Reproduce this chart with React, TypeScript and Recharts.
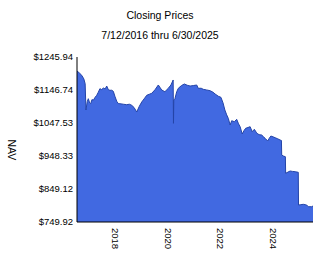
import React from "react";
import { AreaChart, Area, XAxis, YAxis } from "recharts";

const dates: number[] = [
  2016.53, 2016.62, 2016.71, 2016.79, 2016.84, 2016.87, 2016.92, 2016.96, 2017.01, 2017.05,
  2017.1, 2017.15, 2017.22, 2017.28, 2017.34, 2017.4, 2017.47, 2017.53, 2017.6, 2017.66,
  2017.72, 2017.78, 2017.85, 2017.91, 2017.97, 2018.04, 2018.1, 2018.16, 2018.29, 2018.42,
  2018.52, 2018.61, 2018.7, 2018.8, 2018.9, 2018.99, 2019.08, 2019.18, 2019.28, 2019.37,
  2019.5, 2019.62, 2019.68, 2019.75, 2019.87, 2020.0, 2020.1, 2020.185, 2020.197, 2020.209,
  2020.25, 2020.32, 2020.38, 2020.5, 2020.61, 2020.72, 2020.83, 2020.95, 2021.08, 2021.14,
  2021.25, 2021.33, 2021.45, 2021.59, 2021.7, 2021.78, 2021.9, 2022.0, 2022.08, 2022.15,
  2022.22, 2022.28, 2022.35, 2022.41, 2022.51, 2022.6, 2022.67, 2022.73, 2022.81, 2022.88,
  2022.94, 2023.03, 2023.11, 2023.19, 2023.27, 2023.34, 2023.4, 2023.48, 2023.55, 2023.62,
  2023.68, 2023.78, 2023.84, 2023.9, 2023.98, 2024.06, 2024.16, 2024.25, 2024.3, 2024.31,
  2024.38, 2024.45, 2024.46, 2024.55, 2024.63, 2024.72, 2024.82, 2024.94, 2024.95, 2025.04,
  2025.13, 2025.2, 2025.26, 2025.32, 2025.45, 2025.5,
];

const navValues: number[] = [
  1203.9, 1198, 1190.9, 1180, 1165.7, 1086.6, 1112, 1120.6, 1108, 1105.5,
  1118, 1115.8, 1125, 1130.8, 1140, 1150.6, 1148, 1152.7, 1150, 1158.7,
  1148, 1145.8, 1146, 1142.8, 1128, 1112.8, 1106, 1105.5, 1104, 1102.5,
  1104, 1100.7, 1094, 1080.6, 1098, 1110.6, 1120, 1130.8, 1134, 1136.8,
  1148, 1161.8, 1155, 1146.7, 1141.6, 1151.8, 1161.8, 1176.8, 1046.6, 1116.7,
  1120, 1141.6, 1151.8, 1160, 1164.8, 1161, 1158.7, 1160, 1161.8, 1151.8,
  1152, 1148.8, 1147, 1144.6, 1140, 1134.7, 1128, 1124.8, 1108, 1086.6,
  1072, 1061.6, 1041.5, 1054.4, 1051.4, 1058.6, 1045, 1036.4, 1014.5, 1025,
  1031.6, 1034, 1036.4, 1021.4, 1028.6, 1020, 1014.5, 1012, 1011.5, 1006,
  1001.5, 993.4, 1002, 1008.4, 1006, 1003.3, 1000, 996.4, 995, 951.3,
  948, 946.2, 896.3, 900, 903.2, 902, 901.1, 899.3, 801.0, 802,
  803.1, 802, 801.0, 795.9, 795.9, 798,
];

const yTicks: number[] = [749.92, 849.124, 948.328, 1047.532, 1146.736, 1245.94];
const xTicks: number[] = [2018, 2020, 2022, 2024];
const xDomain: number[] = [2016.53, 2025.5];

const data = dates.map((d, i) => ({ date: d, nav: navValues[i] }));

const FONT = "'Liberation Sans', Arial, sans-serif";

const XTick = (props: any) => {
  const { x, y, payload } = props;
  return (
    <text
      x={x}
      y={y}
      transform={`rotate(90, ${x}, ${y})`}
      textAnchor="start"
      dominantBaseline="central"
      fontSize={9.5}
      fontFamily={FONT}
      fill="#000"
    >
      {String(payload.value)}
    </text>
  );
};

export default function App() {
  return (
    <div style={{ position: "absolute", left: 0, top: 0, width: 324, height: 267, background: "#fff", fontFamily: FONT }}>
      <div style={{ position: "absolute", left: 0, top: 9, width: 320, textAlign: "center", fontSize: 10.5, lineHeight: "12px", color: "#000" }}>
        Closing Prices
      </div>
      <div style={{ position: "absolute", left: 0, top: 29, width: 320, textAlign: "center", fontSize: 10.5, lineHeight: "12px", color: "#000" }}>
        7/12/2016 thru 6/30/2025
      </div>
      <div style={{ position: "absolute", left: 0, top: 0 }}>
        <AreaChart width={324} height={267} data={data} margin={{ top: 57, right: 11, bottom: 15, left: 0 }}>
          <XAxis
            dataKey="date"
            type="number"
            domain={xDomain}
            ticks={xTicks}
            allowDataOverflow
            tickLine={false}
            tickSize={0}
            tickMargin={6}
            height={30}
            axisLine={{ stroke: "#000", strokeWidth: 1 }}
            tick={<XTick />}
            interval={0}
          />
          <YAxis
            type="number"
            domain={[749.92, 1245.94]}
            ticks={yTicks}
            allowDataOverflow
            width={77}
            tickLine={false}
            tickSize={0}
            tickMargin={4}
            interval={0}
            axisLine={{ stroke: "#000", strokeWidth: 1 }}
            tick={{ fill: "#000", fontSize: 9.5, fontFamily: FONT }}
            tickFormatter={(v: number) => `$${v.toFixed(2)}`}
            label={{ value: "NAV", angle: 90, position: "insideLeft", offset: 12, fill: "#000", fontSize: 10.5, fontFamily: FONT }}
          />
          <Area
            type="linear"
            dataKey="nav"
            stroke="#2444a8"
            strokeWidth={1}
            fill="#4169e1"
            fillOpacity={1}
            isAnimationActive={false}
            dot={false}
            activeDot={false}
          />
        </AreaChart>
      </div>
    </div>
  );
}
